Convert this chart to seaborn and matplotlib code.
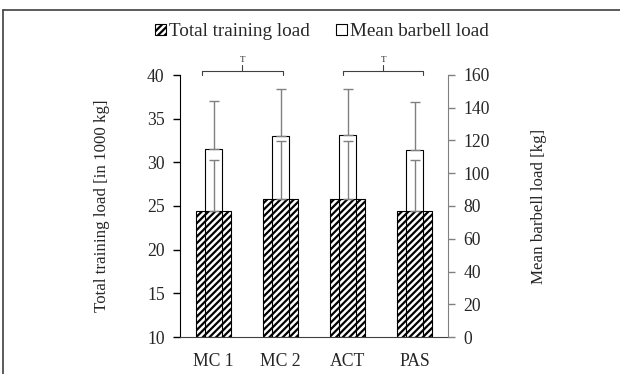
import numpy as np
import matplotlib
matplotlib.use("Agg")
import matplotlib.pyplot as plt
from matplotlib.patches import Patch
from matplotlib.lines import Line2D
import seaborn as sns

categories = ["MC 1", "MC 2", "ACT", "PAS"]
total_load = [24.45, 25.75, 25.75, 24.45]      # in 1000 kg
total_sd = [5.8, 6.7, 6.7, 5.8]
barbell_load = [114.7, 122.8, 123.2, 114.2]    # kg
barbell_sd = [29.7, 28.5, 28.5, 29.5]

sns.set_style("white")
plt.rcParams['font.family'] = ['Liberation Serif', 'DejaVu Serif']
plt.rcParams['font.size'] = 12.7
plt.rcParams['hatch.linewidth'] = 1.6

fig = plt.figure(figsize=(6.2, 3.74), dpi=100)
ax = fig.add_axes([180/620, 37/374, 268/620, 262/374])
ax2 = ax.twinx()

x = np.arange(len(categories))

# total training load (left axis), hatched
sns.barplot(x=categories, y=total_load, ax=ax, color='white', saturation=1,
            edgecolor='black', linewidth=0.8, hatch='/////', width=0.51)
ax.errorbar(x, total_load, yerr=[np.zeros(len(x)), total_sd], fmt='none',
            ecolor='#808080', elinewidth=1, capsize=3.5, capthick=1)

# mean barbell load (right axis), open bars
sns.barplot(x=categories, y=barbell_load, ax=ax2, fill=False, color='black',
            linewidth=0.8, width=0.26)
for p in ax2.patches:
    p.set_edgecolor('black')
ax2.errorbar(x, barbell_load, yerr=[np.zeros(len(x)), barbell_sd], fmt='none',
             ecolor='#808080', elinewidth=1, capsize=3.5, capthick=1)

ax.set_xlim(-0.5, 3.5)
ax.set_ylim(10, 40)
ax.set_yticks(range(10, 41, 5))
ax2.set_ylim(0, 160)
ax2.set_yticks(range(0, 161, 20))

for s in ['top', 'right']:
    ax.spines[s].set_visible(False)
for s in ['top', 'left', 'bottom']:
    ax2.spines[s].set_visible(False)
ax.spines['left'].set_color('black')
ax.spines['bottom'].set_color('#404040')
ax2.spines['right'].set_color('#808080')
ax.tick_params(axis='y', left=True, direction='out', length=5, width=1, color='black', pad=6)
ax.tick_params(axis='x', bottom=False, pad=8)
ax2.tick_params(axis='y', right=True, direction='out', length=5, width=1, color='#808080', pad=6)

ax.set_ylabel("Total training load [in 1000 kg]", fontsize=12.2)
ax.yaxis.set_label_coords(-0.26, 0.5)
ax2.set_ylabel("Mean barbell load [kg]", fontsize=12.2)
ax2.yaxis.set_label_coords(1.31, 0.5)
ax.set_xlabel("")
ax2.set_xlabel("")

# significance brackets above the chart
for x0, x1 in [(-0.17, 1.03), (1.94, 3.13)]:
    xm = (x0 + x1) / 2
    ax.plot([x0, x0, x1, x1], [40.0, 40.5, 40.5, 40.0], color='#404040', lw=0.8, clip_on=False)
    ax.plot([xm, xm], [40.5, 41.2], color='#404040', lw=0.8, clip_on=False)
    ax.text(xm, 41.3, "T", ha='center', va='bottom', fontsize=6.5)

handles = [Patch(facecolor='white', edgecolor='black', hatch='/////', lw=0.8),
           Patch(facecolor='white', edgecolor='black', lw=0.8)]
fig.legend(handles, ["Total training load", "Mean barbell load"], loc='center',
           bbox_to_anchor=(322/620, 1 - 32/374), ncol=2, frameon=False, fontsize=13.8,
           handlelength=0.55, handleheight=0.55, handletextpad=0.15, columnspacing=1.4)

# partial frame around the figure
fig.add_artist(Line2D([3/620, 1], [1 - 10/374] * 2, color='#404040', lw=1.2))
fig.add_artist(Line2D([3/620] * 2, [0, 1 - 10/374], color='#404040', lw=1.2))

fig.savefig("out.png", dpi=100)
